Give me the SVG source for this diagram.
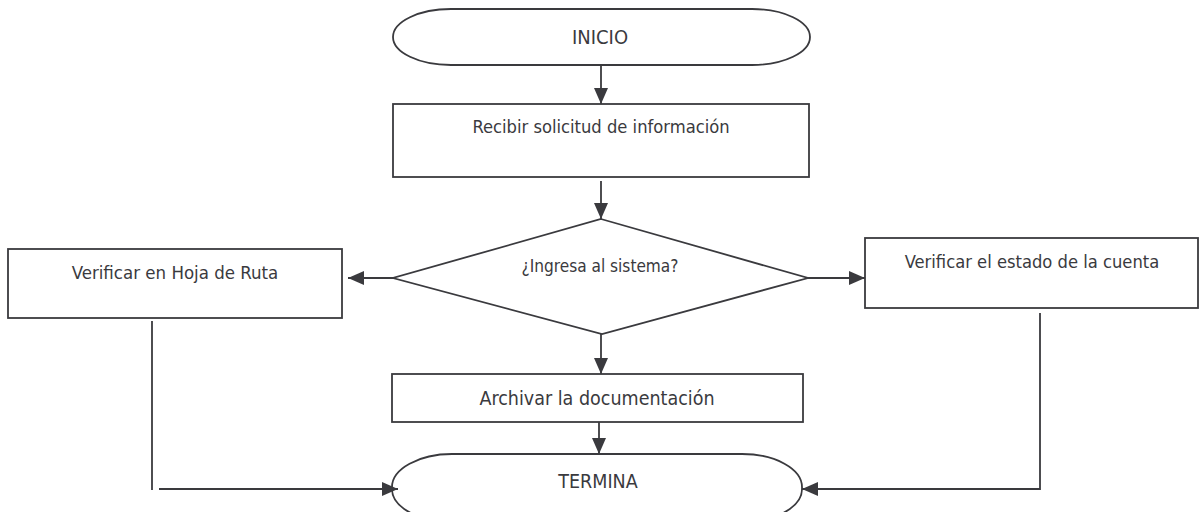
<svg xmlns="http://www.w3.org/2000/svg" width="1199" height="512" viewBox="0 0 1199 512">
<style>
.s{fill:#fff;stroke:#3a3a3e;stroke-width:1.8}
.t{font-family:"DejaVu Sans Condensed","DejaVu Sans",sans-serif;fill:#3a3a3e;text-anchor:middle}
.c{fill:none;stroke:#3a3a3e;stroke-width:1.8}
</style>
<defs>
<marker id="a" viewBox="0 0 16 14" refX="16" refY="7" markerWidth="16" markerHeight="14" markerUnits="userSpaceOnUse" orient="auto">
<path d="M0,0 L16,7 L0,14 Z" fill="#3a3a3e"/>
</marker>
</defs>
<rect width="1199" height="512" fill="#fff"/>
<g id="inicio">
<rect class="s" x="393" y="9" width="417" height="56" rx="58" ry="28"/>
<text class="t" x="600" y="44" font-size="20">INICIO</text>
</g>
<g id="recibir">
<rect class="s" x="393" y="104" width="416" height="73"/>
<text class="t" x="601" y="133" font-size="18.2">Recibir solicitud de información</text>
</g>
<g id="decision">
<polygon class="s" points="601,219 808,278 602,334 393,278"/>
<text class="t" x="600" y="272" font-size="17.1">¿Ingresa al sistema?</text>
</g>
<g id="hoja">
<rect class="s" x="8" y="249" width="334" height="69"/>
<text class="t" x="175" y="279" font-size="18.5">Verificar en Hoja de Ruta</text>
</g>
<g id="cuenta">
<rect class="s" x="865" y="238" width="333" height="70"/>
<text class="t" x="1032" y="268" font-size="18.2">Verificar el estado de la cuenta</text>
</g>
<g id="archivar">
<rect class="s" x="392" y="374" width="411" height="48"/>
<text class="t" x="597" y="405" font-size="19.5">Archivar la documentación</text>
</g>
<g id="termina">
<rect class="s" x="392" y="454" width="410" height="68" rx="60" ry="33"/>
<text class="t" x="598" y="488" font-size="19.5">TERMINA</text>
</g>
<g id="connectors">
<line class="c" x1="601" y1="65" x2="601" y2="104" marker-end="url(#a)"/>
<line class="c" x1="601" y1="181" x2="601" y2="219" marker-end="url(#a)"/>
<line class="c" x1="393" y1="278" x2="348" y2="278" marker-end="url(#a)"/>
<line class="c" x1="808" y1="278" x2="865" y2="278" marker-end="url(#a)"/>
<line class="c" x1="601" y1="334" x2="601" y2="374" marker-end="url(#a)"/>
<line class="c" x1="599" y1="422" x2="599" y2="454" marker-end="url(#a)"/>
<line class="c" x1="152" y1="321" x2="152" y2="490"/>
<line class="c" x1="159" y1="489" x2="398" y2="489" marker-end="url(#a)"/>
<polyline class="c" points="1040,313 1040,489 802,489" marker-end="url(#a)"/>
</g>
</svg>
